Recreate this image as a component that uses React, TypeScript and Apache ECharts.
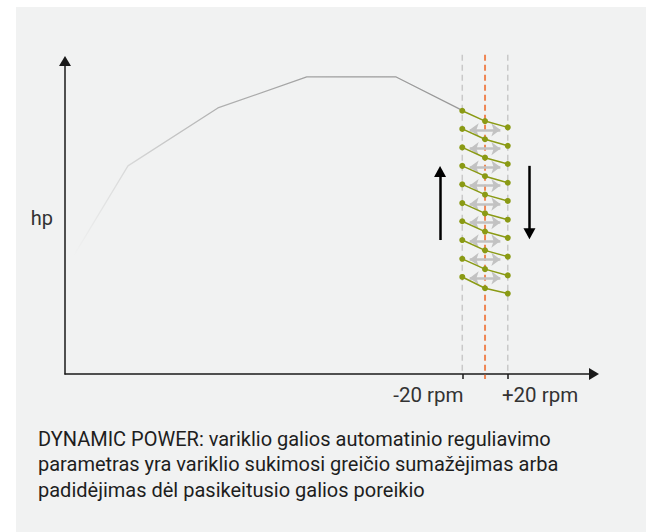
import React, { useEffect, useRef } from "react";
import * as echarts from "echarts";

// hp curve (abstract units: x 0..100, y 0..100)
const curveX = [1.5, 11.9, 28.9, 45.7, 62.6, 75.0];
const curveY = [37.4, 66.5, 85.0, 94.9, 94.9, 84.3];

// rpm band
const nominalX = 79.4;
const bandDelta = 4.3;
const bandTop = 102;
const orangeBottom = -1.6;

// zig-zag rows (left / nominal / right)
const zigLeftY = [84.1, 78.3, 72.4, 66.5, 60.6, 54.6, 48.8, 42.8, 36.8, 31.0];
const zigMidY = [80.8, 75.0, 69.1, 63.2, 57.3, 51.3, 45.5, 39.5, 33.5, 27.4];
const zigRightY = [78.8, 72.9, 67.1, 61.1, 55.3, 49.3, 43.5, 37.5, 31.5, 25.7];

// grey double arrows
const shiftArrowY = [78.0, 72.0, 66.1, 60.2, 54.3, 48.4, 42.5, 36.6, 30.7];
const shiftArrowX = [76.5, 82.3];

// black direction arrows
const upArrow = { x: 70.9, from: 42.8, to: 64.7 };
const downArrow = { x: 87.8, from: 66.5, to: 44.8 };

// axis ticks / labels
const tickValues = [nominalX - bandDelta, nominalX + bandDelta];
const tickLabels = ["-20 rpm", "+20 rpm"];
const labelPositions = [68.7, 89.8];
const yAxisName = "hp";

const captionLines = [
  "DYNAMIC POWER: variklio galios automatinio reguliavimo",
  "parametras yra variklio sukimosi greičio sumažėjimas arba",
  "padidėjimas dėl pasikeitusio galios poreikio",
];

const GREEN = "#8a9a14";

export default function App() {
  const ref = useRef<HTMLDivElement>(null);
  useEffect(() => {
    if (!ref.current) return;
    const chart = echarts.init(ref.current, undefined, { renderer: "svg" });

    const zigSeries = zigLeftY.map((ly, i) => ({
      type: "line",
      silent: true,
      z: 5,
      data: [
        [nominalX - bandDelta, ly],
        [nominalX, zigMidY[i]],
        [nominalX + bandDelta, zigRightY[i]],
      ],
      symbol: "circle",
      symbolSize: 6,
      itemStyle: { color: GREEN },
      lineStyle: { color: GREEN, width: 1.5 },
    }));

    const option: any = {
      animation: false,
      backgroundColor: "#ffffff",
      textStyle: { fontFamily: "Roboto" },
      graphic: [
        {
          type: "rect",
          left: 16,
          top: 7,
          shape: { width: 630, height: 525 },
          style: { fill: "#f1f2f2" },
          z: -10,
          silent: true,
        },
      ],
      title: {
        text: captionLines.join("\n"),
        left: 38,
        top: 426,
        padding: 0,
        textStyle: {
          fontFamily: "Roboto",
          fontSize: 20,
          fontWeight: "normal",
          color: "#1e1e1e",
          lineHeight: 25.5,
        },
      },
      grid: { left: 65, right: 52, top: 61, bottom: 158 },
      xAxis: {
        type: "value",
        min: 0,
        max: 100,
        splitLine: { show: false },
        axisLine: {
          show: true,
          symbol: ["none", "triangle"],
          symbolSize: [12, 10],
          lineStyle: { color: "#1a1a1a", width: 1.5 },
        },
        axisTick: {
          show: true,
          customValues: tickValues,
          length: 5,
          lineStyle: { color: "#1a1a1a", width: 1.5 },
        },
        axisLabel: {
          show: true,
          customValues: labelPositions,
          margin: 10,
          fontFamily: "Roboto",
          fontSize: 20.5,
          color: "#333",
          formatter: (v: number) => {
            let best = 0;
            labelPositions.forEach((p, i) => {
              if (Math.abs(p - v) < Math.abs(labelPositions[best] - v)) best = i;
            });
            return tickLabels[best];
          },
        },
      },
      yAxis: {
        type: "value",
        min: 0,
        max: 100,
        name: yAxisName,
        nameLocation: "middle",
        nameRotate: 0,
        nameGap: 12,
        nameTextStyle: { fontFamily: "Roboto", fontSize: 20, color: "#333" },
        splitLine: { show: false },
        axisTick: { show: false },
        axisLabel: { show: false },
        axisLine: {
          show: true,
          symbol: ["none", "triangle"],
          symbolSize: [12, 10],
          lineStyle: { color: "#1a1a1a", width: 1.5 },
        },
      },
      series: [
        {
          type: "line",
          silent: true,
          z: 2,
          data: curveX.map((x, i) => [x, curveY[i]]),
          symbol: "none",
          lineStyle: {
            width: 1.3,
            color: new echarts.graphic.LinearGradient(0, 0, 1, 0, [
              { offset: 0, color: "rgba(170,170,170,0)" },
              { offset: 0.14, color: "rgba(170,170,170,0.35)" },
              { offset: 0.37, color: "rgba(165,165,165,0.85)" },
              { offset: 0.7, color: "#9c9c9c" },
              { offset: 1, color: "#999999" },
            ]),
          },
        },
        {
          type: "line",
          silent: true,
          clip: false,
          z: 1,
          symbol: "none",
          data: [
            [nominalX - bandDelta, bandTop],
            [nominalX - bandDelta, 0],
          ],
          lineStyle: { color: "#c9c9c9", width: 1.5, type: [6, 4] },
        },
        {
          type: "line",
          silent: true,
          clip: false,
          z: 1,
          symbol: "none",
          data: [
            [nominalX + bandDelta, bandTop],
            [nominalX + bandDelta, 0],
          ],
          lineStyle: { color: "#c9c9c9", width: 1.5, type: [6, 4] },
        },
        {
          type: "line",
          silent: true,
          z: 2,
          symbol: "none",
          data: [],
          markLine: {
            silent: true,
            symbol: ["arrow", "arrow"],
            symbolSize: [10, 9],
            label: { show: false },
            lineStyle: { color: "#c2c2c2", width: 2.5, type: "solid" },
            data: shiftArrowY.map((y) => [
              { coord: [shiftArrowX[0], y] },
              { coord: [shiftArrowX[1], y] },
            ]),
          },
        },
        {
          type: "line",
          silent: true,
          clip: false,
          z: 3,
          symbol: "none",
          data: [
            [nominalX, bandTop],
            [nominalX, orangeBottom],
          ],
          lineStyle: { color: "#ef8654", width: 2, type: [6, 4] },
        },
        {
          type: "line",
          silent: true,
          z: 4,
          symbol: "none",
          data: [],
          markLine: {
            silent: true,
            symbol: ["none", "triangle"],
            symbolSize: [12, 11],
            label: { show: false },
            lineStyle: { color: "#000000", width: 2.5, type: "solid" },
            data: [
              [
                { coord: [upArrow.x, upArrow.from] },
                { coord: [upArrow.x, upArrow.to] },
              ],
              [
                { coord: [downArrow.x, downArrow.from] },
                { coord: [downArrow.x, downArrow.to] },
              ],
            ],
          },
        },
        ...zigSeries,
      ],
    };

    chart.setOption(option);
    return () => chart.dispose();
  }, []);

  return (
    <div
      ref={ref}
      style={{ position: "absolute", left: 0, top: 0, width: 646, height: 532 }}
    />
  );
}
